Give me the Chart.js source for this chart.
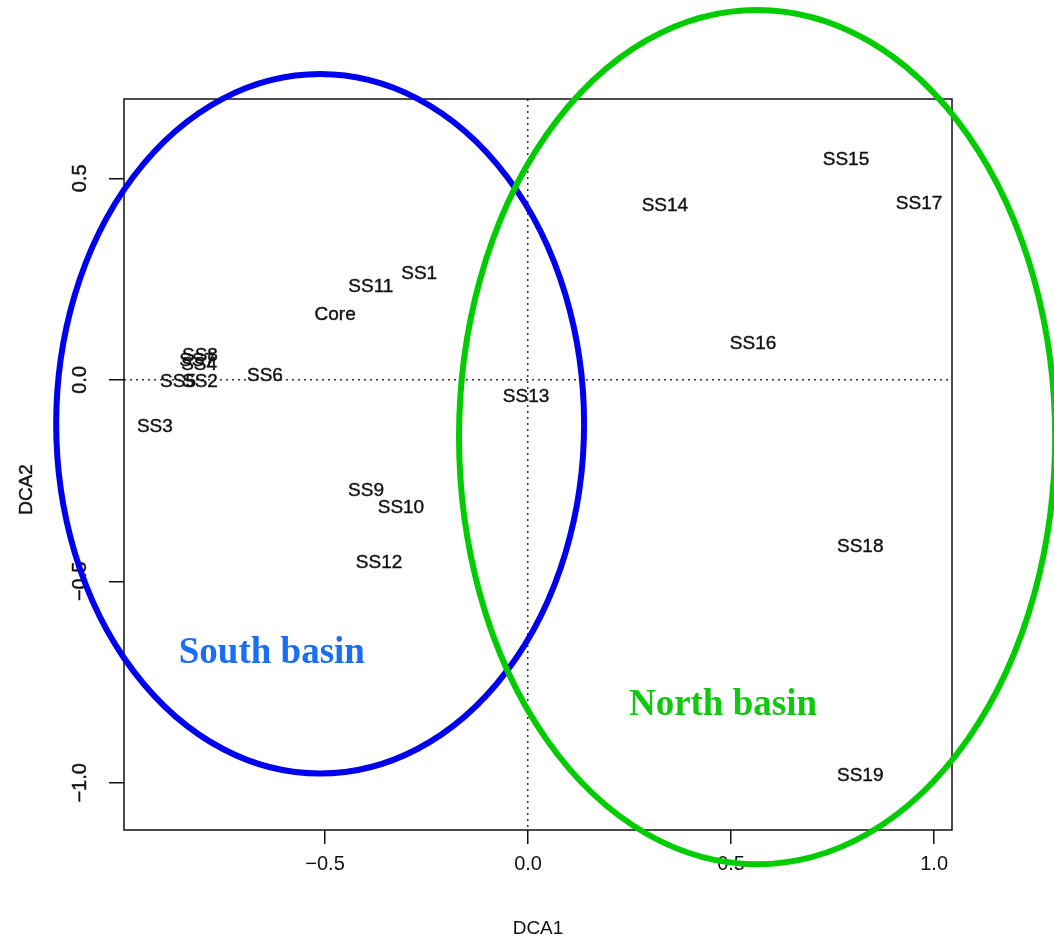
<!DOCTYPE html>
<html>
<head>
<meta charset="utf-8">
<script src="https://cdn.jsdelivr.net/npm/chart.js@4"></script>
<style>
  html, body { margin: 0; padding: 0; background: #fff; }
  #wrap { width: 1054px; height: 945px; }
</style>
</head>
<body>
<div id="wrap"><canvas id="c" width="1054" height="945"></canvas></div>
<script>
// sample scores on the first two DCA axes
const siteLabels = ["SS15", "SS17", "SS14", "SS1", "SS11", "Core", "SS16", "SS8", "SS7", "SS4",
    "SS5", "SS2", "SS6", "SS3", "SS13", "SS9", "SS10", "SS12", "SS18", "SS19"];
const dca1 = [0.783, 0.963, 0.337, -0.268, -0.387, -0.475, 0.554, -0.808, -0.815, -0.810,
    -0.862, -0.808, -0.648, -0.919, -0.005, -0.399, -0.313, -0.367, 0.818, 0.818];
const dca2 = [0.547, 0.438, 0.433, 0.264, 0.231, 0.162, 0.090, 0.060, 0.048, 0.037,
    -0.005, -0.005, 0.010, -0.117, -0.042, -0.274, -0.318, -0.455, -0.413, -0.983];

const xTicks = [-0.5, 0, 0.5, 1.0];
const yTicks = [-1.0, -0.5, 0, 0.5];
const xRange = [-0.995, 1.044];
const yRange = [-1.117, 0.697];

// hand-drawn group outlines (centre x, centre y, radius x, radius y in axis units)
const groups = [
    { name: "South basin", cx: -0.512, cy: -0.109, rx: 0.650, ry: 0.868, line: "#0000f0", text: "#1a6ef5", tx: -0.631, ty: -0.679 },
    { name: "North basin", cx: 0.564, cy: -0.142, rx: 0.734, ry: 1.060, line: "#00cc00", text: "#10c810", tx: 0.480, ty: -0.808 },
];

const fmt = (v) => (v < 0 ? "\u2212" : "") + Math.abs(v).toFixed(1);

const labelPlugin = {
    id: "labels",
    afterDatasetsDraw(chart) {
        const { ctx, chartArea } = chart;
        const meta = chart.getDatasetMeta(0);
        ctx.save();
        // frame
        ctx.strokeStyle = "#111";
        ctx.lineWidth = 1.5;
        ctx.strokeRect(chartArea.left, chartArea.top, chartArea.right - chartArea.left, chartArea.bottom - chartArea.top);

        ctx.fillStyle = "#111";
        ctx.strokeStyle = "#111";
        ctx.lineWidth = 0.4;
        ctx.font = "19px 'Liberation Sans', Arial, sans-serif";
        ctx.textAlign = "center";
        ctx.textBaseline = "middle";
        meta.data.forEach((pt, i) => {
            ctx.fillText(siteLabels[i], pt.x, pt.y);
            ctx.strokeText(siteLabels[i], pt.x, pt.y);
        });

        // y tick labels, rotated like base R
        const ys = chart.scales.y;
        ctx.font = "20px 'Liberation Sans', Arial, sans-serif";
        yTicks.forEach((v) => {
            const py = ys.getPixelForValue(v);
            ctx.save();
            ctx.translate(80, py);
            ctx.rotate(-Math.PI / 2);
            ctx.fillText(fmt(v), 0, 0);
            ctx.strokeText(fmt(v), 0, 0);
            ctx.restore();
        });
        ctx.save();
        ctx.translate(27, (chartArea.top + chartArea.bottom) / 2 + 25);
        ctx.rotate(-Math.PI / 2);
        ctx.font = "19px 'Liberation Sans', Arial, sans-serif";
        ctx.fillText("DCA2", 0, 0);
        ctx.strokeText("DCA2", 0, 0);
        ctx.restore();
        ctx.restore();
    },
    afterDraw(chart) {
        const { ctx } = chart;
        const xs = chart.scales.x, ys = chart.scales.y;
        ctx.save();
        groups.forEach((g) => {
            const cx = xs.getPixelForValue(g.cx), cy = ys.getPixelForValue(g.cy);
            const rx = Math.abs(xs.getPixelForValue(g.cx + g.rx) - cx);
            const ry = Math.abs(ys.getPixelForValue(g.cy + g.ry) - cy);
            ctx.beginPath();
            ctx.ellipse(cx, cy, rx, ry, 0, 0, Math.PI * 2);
            ctx.strokeStyle = g.line;
            ctx.lineWidth = 6;
            ctx.stroke();

            ctx.fillStyle = g.text;
            ctx.font = "bold 37px 'Liberation Serif', 'DejaVu Serif', serif";
            ctx.textAlign = "center";
            ctx.textBaseline = "middle";
            ctx.fillText(g.name, xs.getPixelForValue(g.tx), ys.getPixelForValue(g.ty));
        });
        ctx.restore();
    },
};

const zeroGrid = (c) => (c.tick && c.tick.value === 0 ? "#333" : "rgba(0,0,0,0)");

new Chart(document.getElementById("c"), {
    type: "scatter",
    data: {
        datasets: [{
            data: dca1.map((x, i) => ({ x, y: dca2[i] })),
            pointRadius: 0,
            pointHoverRadius: 0,
        }],
    },
    options: {
        responsive: false,
        animation: false,
        layout: { padding: { top: 99, right: 102, left: 0, bottom: 0 } },
        plugins: { legend: { display: false }, tooltip: { enabled: false } },
        scales: {
            x: {
                type: "linear",
                min: xRange[0],
                max: xRange[1],
                afterBuildTicks: (s) => { s.ticks = xTicks.map((value) => ({ value })); },
                afterFit: (s) => { s.height = 115; },
                grid: { color: zeroGrid, lineWidth: 1.5, tickColor: "#111", tickLength: 14, tickWidth: 1.5 },
                border: { display: false, dash: [2, 4] },
                ticks: {
                    color: "#111",
                    padding: 8,
                    font: { family: "'Liberation Sans', Arial, sans-serif", size: 20 },
                    callback: (v) => fmt(v),
                },
                title: {
                    display: true,
                    text: "DCA1",
                    color: "#111",
                    padding: { top: 0, bottom: 5 },
                    font: { family: "'Liberation Sans', Arial, sans-serif", size: 19 },
                },
            },
            y: {
                type: "linear",
                min: yRange[0],
                max: yRange[1],
                afterBuildTicks: (s) => { s.ticks = yTicks.map((value) => ({ value })); },
                afterFit: (s) => { s.width = 124; },
                grid: { color: zeroGrid, lineWidth: 1.5, tickColor: "#111", tickLength: 15, tickWidth: 1.5 },
                border: { display: false, dash: [2, 4] },
                ticks: { color: "rgba(0,0,0,0)", callback: (v) => fmt(v) },
            },
        },
    },
    plugins: [labelPlugin],
});
</script>
</body>
</html>
